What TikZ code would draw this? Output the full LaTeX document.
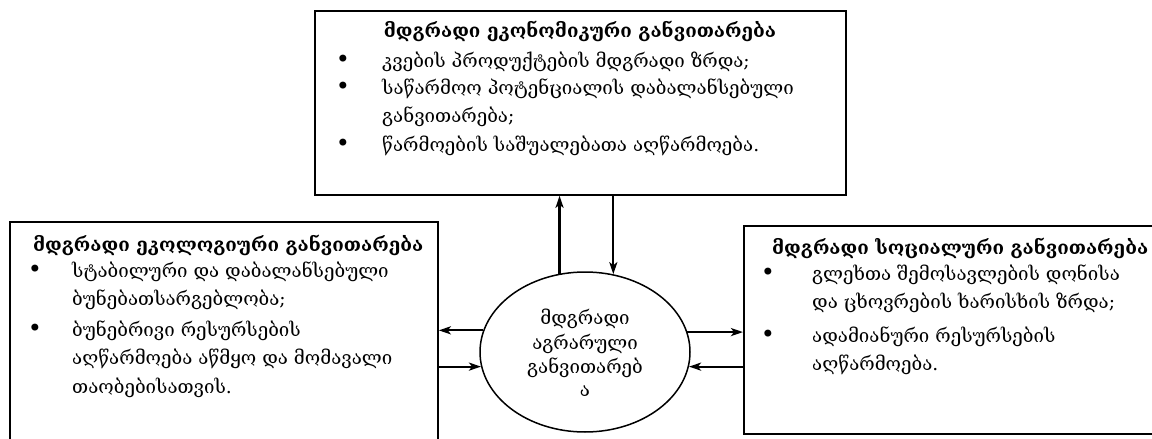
\documentclass[tikz,border=0pt]{standalone}
\usepackage{fontspec}
\setmainfont{DejaVu Serif}
\usetikzlibrary{shapes.geometric,arrows.meta,calc}
\begin{document}
\begin{tikzpicture}[x=1pt,y=-1pt,
  box/.style={draw,line width=1.8pt,rectangle,inner sep=0pt},
  ttl/.style={inner sep=0pt,font=\fontsize{18.8}{22}\selectfont\bfseries},
  txt/.style={anchor=base west,inner sep=0pt,font=\fontsize{18.7}{22}\selectfont},
  bul/.style={anchor=base,inner sep=0pt,font=\fontsize{24}{22}\selectfont},
  arr/.style={line width=2.2pt,-{Stealth[length=12pt,width=8pt,inset=3pt]}}]
\useasboundingbox (0,0) rectangle (1152,439);
\clip (0,0) rectangle (1152,439);
% boxes
\node[box,minimum width=531pt,minimum height=184pt,anchor=north west] (top) at (314,10) {};
\node[box,minimum width=428pt,minimum height=260pt,anchor=north west] (left) at (9,221) {};
\node[box,minimum width=440pt,minimum height=208pt,anchor=north west] (right) at (743,225) {};
\node[draw,ellipse,line width=1.5pt,minimum width=210pt,minimum height=160pt,inner sep=0pt] (core) at (585,352) {};
% top box text
\node[ttl,anchor=base] (t0) at (580,37) {მდგრადი ეკონომიკური განვითარება};
\node[bul] (tb1) at (343,67) {•};
\node[txt] (t1) at (382,67) {კვების პროდუქტების მდგრადი ზრდა;};
\node[bul] (tb2) at (343,94) {•};
\node[txt] (t2) at (382,94) {საწარმოო პოტენციალის დაბალანსებული};
\node[txt] (t3) at (382,122) {განვითარება;};
\node[bul] (tb3) at (343,151) {•};
\node[txt] (t4) at (382,151) {წარმოების საშუალებათა აღწარმოება.};
% left box text
\node[ttl,anchor=base west] (l0) at (33,251) {მდგრადი ეკოლოგიური განვითარება};
\node[bul] (lb1) at (35,277) {•};
\node[txt] (l1) at (72,277) {სტაბილური და დაბალანსებული};
\node[txt] (l2) at (72,305) {ბუნებათსარგებლობა;};
\node[bul] (lb2) at (35,336) {•};
\node[txt] (l3) at (72,336) {ბუნებრივი რესურსების};
\node[txt] (l4) at (72,364) {აღწარმოება აწმყო და მომავალი};
\node[txt] (l5) at (72,393) {თაობებისათვის.};
% right box text
\node[ttl,anchor=base west] (r0) at (772,254) {მდგრადი სოციალური განვითარება};
\node[bul] (rb1) at (768,280) {•};
\node[txt] (r1) at (812,280) {გლეხთა შემოსავლების დონისა};
\node[txt] (r2) at (812,308) {და ცხოვრების ხარისხის ზრდა;};
\node[bul] (rb2) at (768,342) {•};
\node[txt] (r3) at (812,342) {ადამიანური რესურსების};
\node[txt] (r4) at (812,370) {აღწარმოება.};
% ellipse text
\node[txt,anchor=base] (c1) at (585,324) {მდგრადი};
\node[txt,anchor=base] (c2) at (585,349) {აგრარული};
\node[txt,anchor=base] (c3) at (585,373) {განვითარებ};
\node[txt,anchor=base] (c4) at (585,396) {ა};
% connectors
\draw[arr] (core.108.5) -- (core.108.5 |- top.south);
\draw[arr] (core.70.7 |- top.south) -- (core.70.7);
\draw[arr] (core.168.9) -- (core.168.9 -| left.east);
\draw[arr] (core.188.3 -| left.east) -- (core.188.3);
\draw[arr] (core.11.1) -- (core.11.1 -| right.west);
\draw[arr] (core.-8.3 -| right.west) -- (core.-8.3);
\end{tikzpicture}
\end{document}
